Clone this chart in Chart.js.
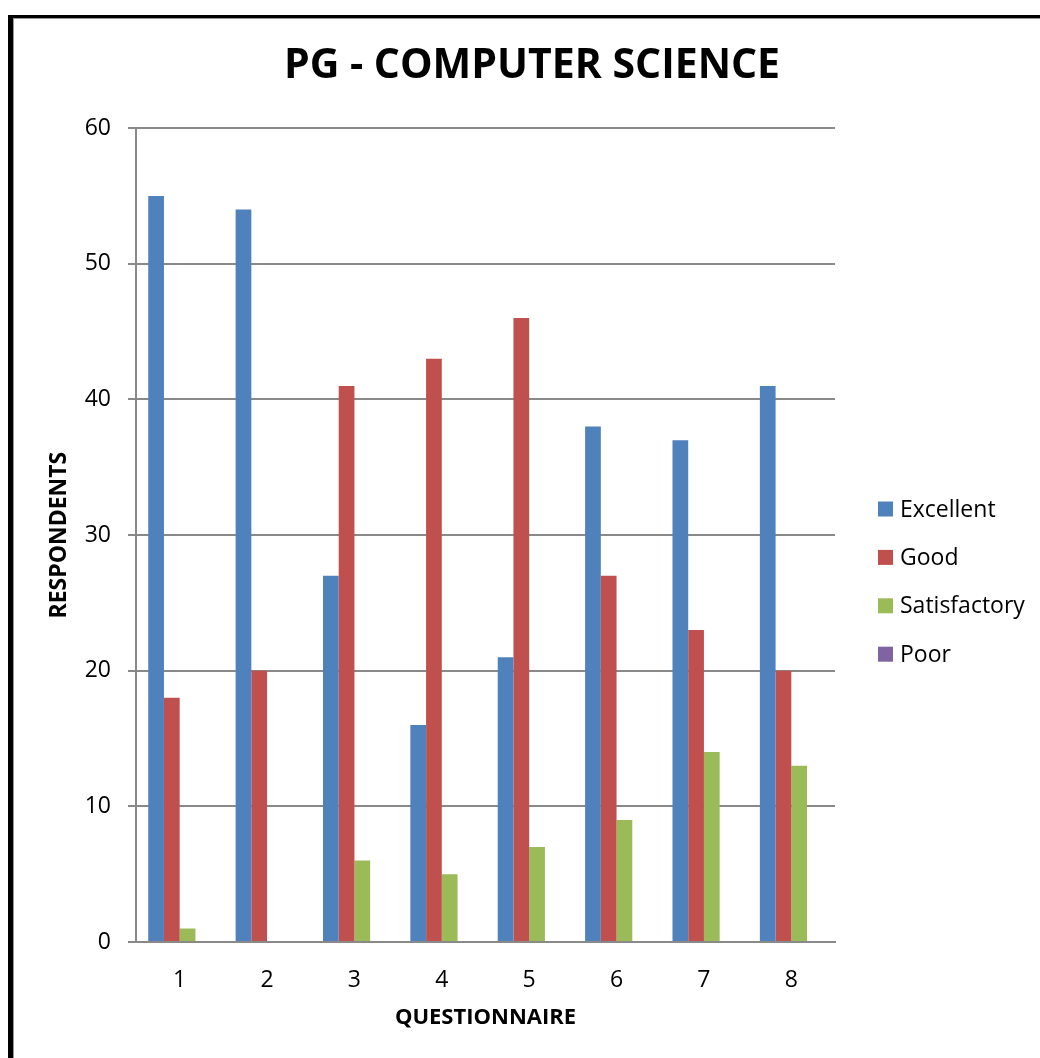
<!DOCTYPE html>
<html lang="en">
<head>
    <meta charset="UTF-8">
    <title>PG - Computer Science</title>
    <script src="https://cdn.jsdelivr.net/npm/chart.js"></script>
    <style>
        body { margin: 0; background: #fff; }
        .moldura {
            position: absolute; left: 8px; top: 15px;
            width: 1100px; height: 1100px;
            border-left: 5px solid #000; border-top: 3px solid #000;
            box-shadow: inset 1px 1px 0 #999;
        }
        #grafico { position: absolute; left: 0; top: 0; }
    </style>
</head>
<body>
    <div class="moldura"></div>
    <canvas id="grafico" width="1040" height="1058"></canvas>
<script>
    // dados
    var questoes = ['1', '2', '3', '4', '5', '6', '7', '8'];
    var excelente = [55, 54, 27, 16, 21, 38, 37, 41];
    var bom = [18, 20, 41, 43, 46, 27, 23, 20];
    var satisfatorio = [1, 0, 6, 5, 7, 9, 14, 13];
    var ruim = [0, 0, 0, 0, 0, 0, 0, 0];
    var nomes = ['Excellent', 'Good', 'Satisfactory', 'Poor'];
    var cores = ['#4F81BD', '#C0504D', '#9BBB59', '#8064A2'];

    Chart.defaults.font.family = "'Open Sans', sans-serif";
    Chart.defaults.color = '#000';

    // legenda desenhada a mao, igual a do excel
    const legendaLateral = {
        id: 'legendaLateral',
        afterDraw(chart) {
            const ctx = chart.ctx;
            ctx.save();
            ctx.font = "23px 'Open Sans', sans-serif";
            ctx.textBaseline = 'middle';
            chart.data.datasets.forEach(function (ds, i) {
                var y = 509 + i * 48.4;
                ctx.fillStyle = ds.backgroundColor;
                ctx.fillRect(878, y - 7.5, 15, 15);
                ctx.fillStyle = '#000';
                ctx.fillText(ds.label, 900, y + 1);
            });
            ctx.restore();
        }
    };

    const chart = new Chart('grafico', {
        type: 'bar',
        data: {
            labels: questoes,
            datasets: [
                { label: nomes[0], data: excelente, backgroundColor: cores[0] },
                { label: nomes[1], data: bom, backgroundColor: cores[1] },
                { label: nomes[2], data: satisfatorio, backgroundColor: cores[2] },
                { label: nomes[3], data: ruim, backgroundColor: cores[3] }
            ]
        },
        options: {
            responsive: false,
            animation: false,
            categoryPercentage: 0.72,
            barPercentage: 1,
            layout: { padding: { left: 24, right: 0, top: 0, bottom: 0 } },
            plugins: {
                legend: { display: false },
                tooltip: { enabled: false },
                title: {
                    display: true,
                    text: 'PG - COMPUTER SCIENCE',
                    font: { size: 41, weight: 'bold' },
                    color: '#000',
                    padding: { top: 42, bottom: 37 }
                }
            },
            scales: {
                x: {
                    grid: { display: false },
                    border: { color: '#898989', width: 2 },
                    ticks: { font: { size: 23 }, padding: 17, color: '#000' },
                    title: {
                        display: true, text: 'QUESTIONNAIRE',
                        font: { size: 22, weight: 'bold' }, color: '#000',
                        padding: { top: 0, bottom: 27 }
                    },
                    afterFit(scale) { scale.height = 116; }
                },
                y: {
                    min: 0, max: 60,
                    ticks: { stepSize: 10, font: { size: 23 }, padding: 17, color: '#000' },
                    grid: { color: '#898989', lineWidth: 2, tickLength: 8 },
                    border: { color: '#898989', width: 2 },
                    title: {
                        display: true, text: 'RESPONDENTS',
                        font: { size: 23, weight: 'bold' }, color: '#000',
                        padding: { top: 22, bottom: 0 }
                    },
                    afterFit(scale) { scale.width = 112; }
                },
                // espaco vazio a direita, onde fica a legenda
                espaco: {
                    type: 'linear', position: 'right',
                    grid: { display: false },
                    border: { display: false },
                    ticks: { display: false },
                    afterFit(scale) { scale.width = 205; }
                }
            }
        },
        plugins: [legendaLateral]
    });
</script>
</body>
</html>
